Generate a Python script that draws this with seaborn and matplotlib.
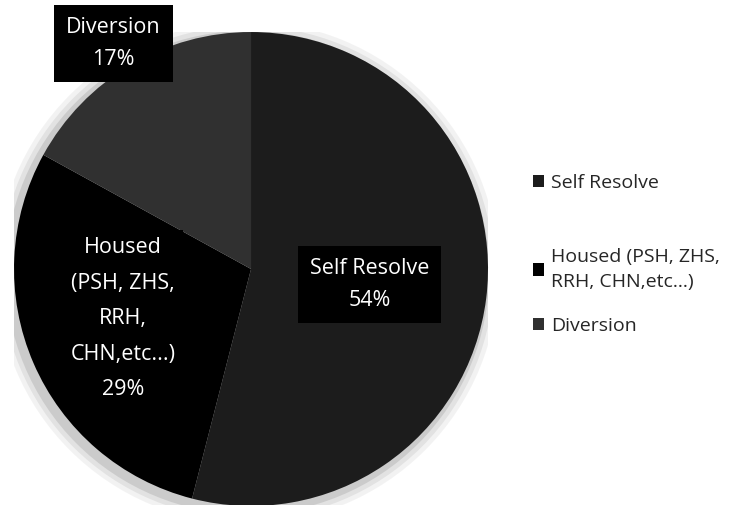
import matplotlib
matplotlib.use("Agg")
import matplotlib.pyplot as plt
from matplotlib.patches import Circle
import seaborn as sns

categories = ["Self Resolve", "Housed (PSH, ZHS,\nRRH, CHN,etc...)", "Diversion"]
shares = [54, 29, 17]
slice_labels = ["Self Resolve\n54%", "Housed\n(PSH, ZHS,\nRRH,\nCHN,etc...)\n29%", "Diversion\n17%"]
colors = ["#1c1c1c", "#000000", "#303030"]

sns.set_theme(style="white")
plt.rcParams['font.family'] = ['Open Sans', 'DejaVu Sans']

fig = plt.figure(figsize=(7.33, 5.05), dpi=100)
ax = fig.add_axes([0.0191, -0.002, 0.6467, 0.9386])

# soft grey halo around the pie (scan shadow)
for r, a in [(1.06, 0.10), (1.04, 0.15), (1.02, 0.25)]:
    ax.add_patch(Circle((-0.015, -0.015), r, color="#888888", alpha=a, lw=0, zorder=0))

wedges, _ = ax.pie(shares, colors=colors, startangle=90, counterclock=False,
                   radius=1.0, wedgeprops=dict(linewidth=0, zorder=1))
ax.set_xlim(-1, 1)
ax.set_ylim(-1, 1)
ax.set_aspect("equal")
ax.axis("off")

# label positions (data coords, relative to pie center)
label_pos = [(0.50, -0.065), (-0.54, -0.21), (-0.58, 0.95)]
pads = [0.55, 0.35, 0.55]
spacing = [1.7, 1.9, 1.7]
for txt, (x, y), p, ls in zip(slice_labels, label_pos, pads, spacing):
    ax.text(x, y, txt, ha="center", va="center", color="white", fontsize=15.5,
            linespacing=ls, clip_on=False, zorder=5,
            bbox=dict(facecolor="black", edgecolor="none", boxstyle=f"square,pad={p}"))

# one legend per entry so the uneven spacing of the original can be kept
legend_y = [0.6376, 0.4663, 0.3545]
for w, cat, y in zip(wedges, categories, legend_y):
    leg = fig.legend([w], [cat], loc="center left", bbox_to_anchor=(0.7026, y),
                     frameon=False, fontsize=14, handlelength=0.6, handleheight=0.6,
                     handletextpad=0.35)
    for t in leg.get_texts():
        t.set_linespacing(1.55)

fig.savefig("out.png", dpi=100, facecolor="white")
